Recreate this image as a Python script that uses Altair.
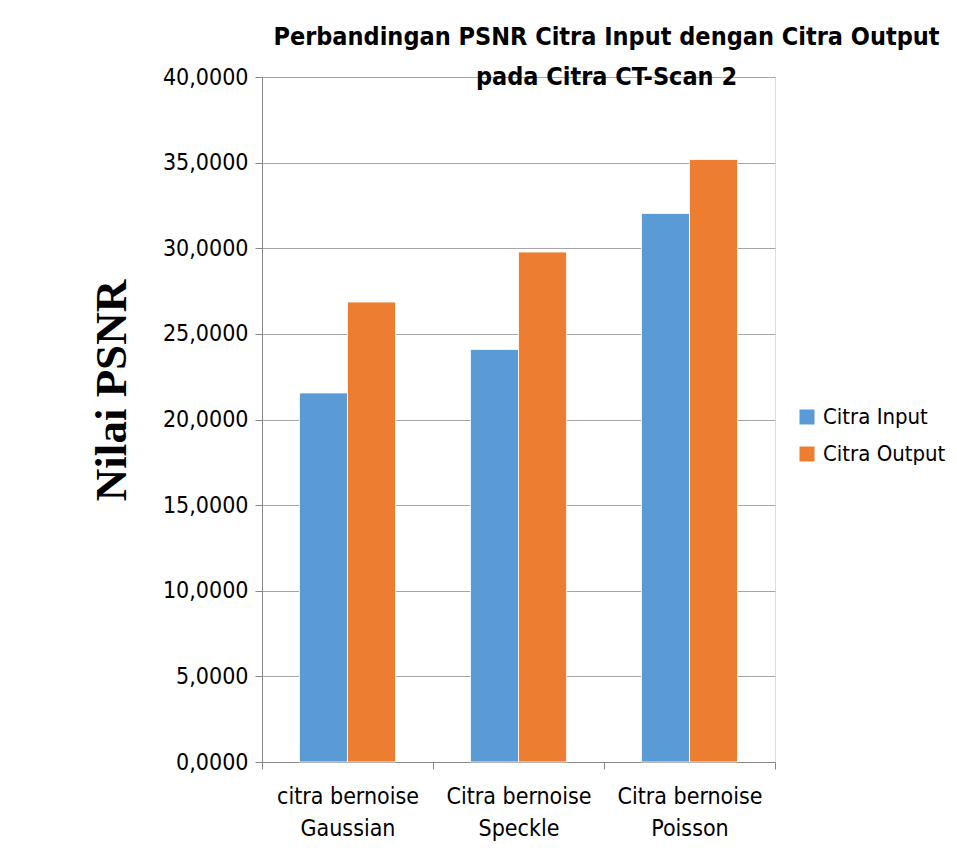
import altair as alt
import pandas as pd

categories = ["citra bernoise|Gaussian", "Citra bernoise|Speckle", "Citra bernoise|Poisson"]
series = ["Citra Input", "Citra Output"]
citra_input = [21.55, 24.09, 32.03]
citra_output = [26.86, 29.78, 35.18]
y_ticks = [0, 5, 10, 15, 20, 25, 30, 35, 40]

rows = []
for c, a, b in zip(categories, citra_input, citra_output):
    rows.append({"kategori": c, "seri": series[0], "nilai": a})
    rows.append({"kategori": c, "seri": series[1], "nilai": b})
df = pd.DataFrame(rows)

FONT = "DejaVu Sans Condensed, Roboto, sans-serif"

chart = alt.Chart(df).mark_bar(stroke="white", strokeWidth=0.8).encode(
    x=alt.X("kategori:N", sort=categories, title=None,
            scale=alt.Scale(paddingInner=0, paddingOuter=0),
            axis=alt.Axis(labelAngle=0, labelExpr="split(datum.label, '|')",
                          labelFont=FONT, labelFontSize=23, labelColor="#000000",
                          labelLineHeight=32, labelPadding=16, labelBaseline="top",
                          tickBand="extent", tickSize=7, tickColor="#868686",
                          domainColor="#868686", grid=False)),
    xOffset=alt.XOffset("seri:N", sort=series,
                        scale=alt.Scale(paddingInner=0, paddingOuter=0.78)),
    y=alt.Y("nilai:Q", title="Nilai PSNR",
            scale=alt.Scale(domain=[0, 40], nice=False),
            axis=alt.Axis(values=y_ticks,
                          labelExpr="replace(format(datum.value, '.4f'), '.', ',')",
                          labelFont=FONT, labelFontSize=23, labelColor="#000000",
                          labelPadding=7, tickSize=7, tickColor="#868686",
                          domainColor="#868686", gridColor="#a6a6a6", gridWidth=1.2,
                          titleFont="Liberation Serif", titleFontSize=45,
                          titleFontWeight="bold", titleColor="#000000",
                          titleX=-151, titleY=313, titleAngle=-90,
                          titleAlign="center", titleBaseline="middle")),
    color=alt.Color("seri:N", sort=series,
                    scale=alt.Scale(domain=series, range=["#5B9BD5", "#ED7D31"]),
                    legend=alt.Legend(title=None, orient="none", legendX=534, legendY=329,
                                      symbolType="square", symbolSize=225,
                                      symbolStrokeWidth=0, labelFont=FONT,
                                      labelFontSize=22, labelColor="#000000",
                                      rowPadding=15, labelOffset=5)),
).properties(
    width=513, height=685,
    autosize="none",
    padding={"left": 254, "top": 69, "right": 174, "bottom": 85},
    title=alt.TitleParams(
        text=["Perbandingan PSNR Citra Input dengan Citra Output", "pada Citra CT-Scan 2"],
        font=FONT, fontSize=25, fontWeight="bold", color="#000000",
        anchor="middle", dx=88, dy=24, lineHeight=40, offset=0, baseline="top",
    ),
).configure_view(stroke=None).configure(background="white")

chart.save("out.html", embed_options={"renderer": "svg", "actions": False})
